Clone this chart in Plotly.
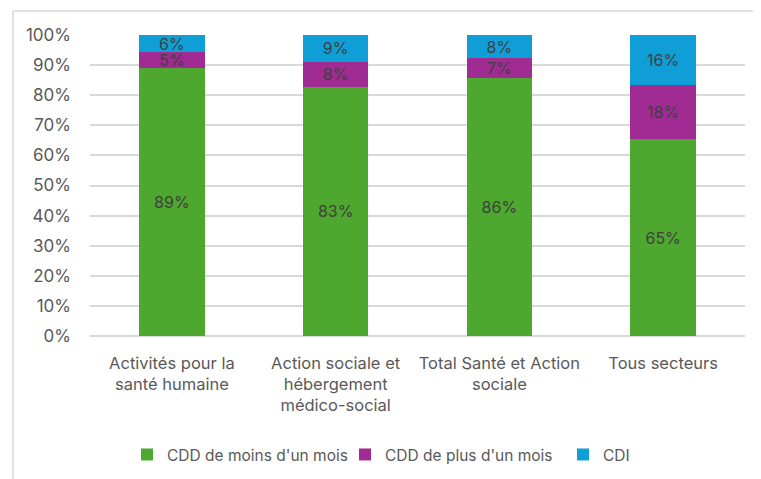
import plotly.graph_objects as go

categories = [
    "Activités pour la<br>santé humaine",
    "Action sociale et<br>hébergement<br>médico-social",
    "Total Santé et Action<br>sociale",
    "Tous secteurs",
]
cdd_moins = [89.0, 82.8, 85.6, 65.3]
cdd_plus = [5.2, 8.3, 6.7, 18.2]
cdi = [5.8, 8.9, 7.7, 16.5]

series = [
    ("CDD de moins d'un mois", cdd_moins, "#4EA72E"),
    ("CDD de plus d'un mois", cdd_plus, "#A02B93"),
    ("CDI", cdi, "#0F9ED5"),
]

FONT = "Inter"
fig = go.Figure()
for name, vals, color in series:
    fig.add_trace(go.Bar(
        x=categories,
        y=[v / 100 for v in vals],
        name=name,
        marker=dict(color=color, line=dict(width=0)),
        text=[f"{round(v)}%" for v in vals],
        textposition="inside",
        insidetextanchor="middle",
        textfont=dict(family=FONT, size=16, color="#404040"),
        textangle=0,
    ))

fig.update_layout(
    barmode="stack",
    bargap=0.6,
    width=761,
    height=479,
    margin=dict(l=82, r=24, t=27, b=151, autoexpand=False),
    paper_bgcolor="white",
    plot_bgcolor="white",
    font=dict(family=FONT, size=16, color="#595959"),
    uniformtext=dict(minsize=16, mode="show"),
    showlegend=True,
    legend=dict(
        orientation="h",
        x=0.0565, xanchor="left",
        y=-0.395, yanchor="middle",
        font=dict(family=FONT, size=15.5, color="#595959"),
        traceorder="normal",
        itemwidth=30,
        entrywidth=173,
        entrywidthmode="pixels",
    ),
    xaxis=dict(
        showgrid=False,
        showline=False,
        ticks="",
        ticklabelstandoff=15,
        tickfont=dict(family=FONT, size=16.5, color="#595959"),
    ),
    yaxis=dict(
        range=[0, 1],
        tickvals=[i / 10 for i in range(11)],
        tickformat=".0%",
        showgrid=True,
        gridcolor="#d9d9d9",
        gridwidth=1.5,
        zeroline=True,
        zerolinecolor="#d9d9d9",
        zerolinewidth=1.5,
        showline=False,
        ticks="",
        ticklabelstandoff=18,
        tickfont=dict(family=FONT, size=17, color="#595959"),
    ),
    shapes=[
        dict(type="line", xref="paper", yref="paper",
             x0=-0.1176, x1=-0.1176, y0=1.0797, y1=-0.6,
             line=dict(color="#d9d9d9", width=1.5)),
        dict(type="line", xref="paper", yref="paper",
             x0=-0.1176, x1=1.1, y0=1.0797, y1=1.0797,
             line=dict(color="#d9d9d9", width=1.5)),
    ],
)

fig.write_html("out.html")
